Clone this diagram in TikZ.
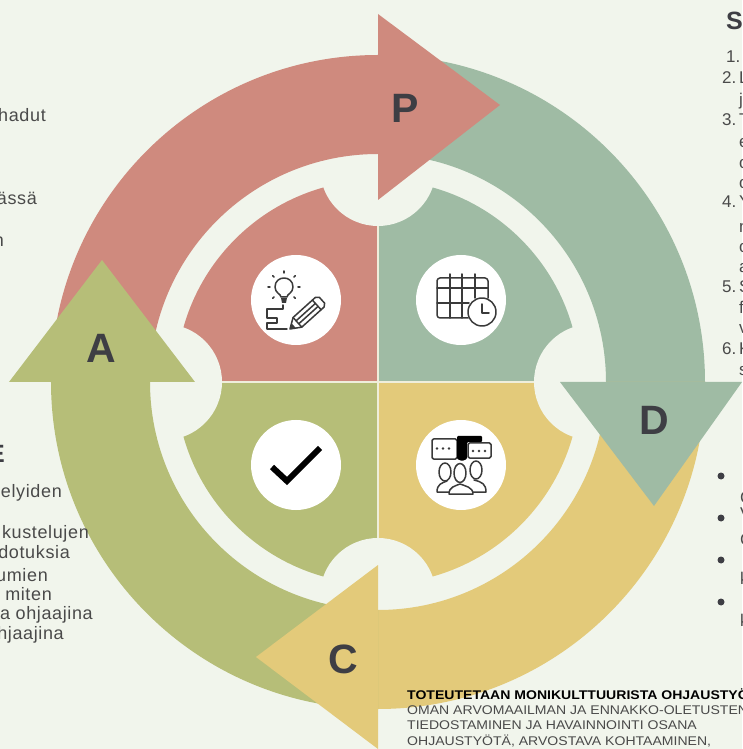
\documentclass[tikz,border=0pt]{standalone}
\usepackage{fontspec}
\usetikzlibrary{calc}
\setmainfont{Liberation Sans}
\newfontfamily\sidefont[LetterSpace=3.5]{Liberation Sans}
\newfontfamily\capsfont[FakeStretch=1.115]{Liberation Sans}
\definecolor{pagebg}{HTML}{F1F5EC}
\definecolor{cred}{HTML}{CF8A7E}
\definecolor{cgreen}{HTML}{9FBBA4}
\definecolor{cyellow}{HTML}{E3CA7A}
\definecolor{colive}{HTML}{B6BE78}
\definecolor{ink}{HTML}{4A4A4A}
\definecolor{letter}{HTML}{3E3E44}
\definecolor{icon}{HTML}{3A3A3A}
\tikzset{
  big/.style={font=\fontsize{41}{41}\selectfont\bfseries,text=letter,inner sep=0pt},
  side/.style={font=\sidefont\fontsize{18}{18}\selectfont,text=ink,inner sep=0pt,anchor=base east},
  head/.style={font=\fontsize{25}{25}\selectfont\bfseries,text=letter,inner sep=0pt},
  num/.style={font=\fontsize{17}{17}\selectfont,text=ink,inner sep=0pt,anchor=base west},
  caps/.style={font=\capsfont\fontsize{12.6}{12.6}\selectfont,text=ink,inner sep=0pt,anchor=base west},
  disc/.style={fill=white,draw=none,circle,minimum size=90pt,inner sep=0pt},
  ic/.style={draw=icon,line width=1.5pt,line join=round,line cap=round,fill=none},
}
\begin{document}
\begin{tikzpicture}[x=1pt,y=1pt]
\useasboundingbox (-378,-367) rectangle (364,382);
\fill[pagebg] (-378,-367) rectangle (364,382);
% inner quadrants
\fill[cred] (0,0) -- (180:202) arc[start angle=180,end angle=90,radius=202] -- cycle;
\fill[cgreen] (0,0) -- (90:202) arc[start angle=90,end angle=0,radius=202] -- cycle;
\fill[cyellow] (0,0) -- (0:202) arc[start angle=0,end angle=-90,radius=202] -- cycle;
\fill[colive] (0,0) -- (-90:202) arc[start angle=-90,end angle=-180,radius=202] -- cycle;
\draw[pagebg!85!cyellow,line width=1.3pt] (-202,0) -- (202,0) (0,-202) -- (0,202);
\fill[pagebg] (0,214) circle[radius=58] (0,-214) circle[radius=58]
  (-214,0) circle[radius=58] (214,0) circle[radius=58];
% ring segments
\fill[cred] (180:327) arc[start angle=180,end angle=90,radius=327] -- (90:228) arc[start angle=90,end angle=180,radius=228] -- cycle;
\fill[cgreen] (90:327) arc[start angle=90,end angle=0,radius=327] -- (0:228) arc[start angle=0,end angle=90,radius=228] -- cycle;
\fill[cyellow] (0:327) arc[start angle=0,end angle=-90,radius=327] -- (-90:228) arc[start angle=-90,end angle=0,radius=228] -- cycle;
\fill[colive] (-90:327) arc[start angle=-90,end angle=-180,radius=327] -- (180:228) arc[start angle=180,end angle=270,radius=228] -- cycle;
\begin{scope}[xshift=-378pt,yshift=382pt,x=1pt,y=-1pt]
% arrow heads
\fill[cred] (378,14) -- (500,105) -- (378,200) -- cycle;
\fill[cgreen] (560,382) -- (742,382) -- (654,506) -- cycle;
\fill[cyellow] (378,565) -- (256,657) -- (378,749) -- cycle;
\fill[colive] (9,382) -- (102,260) -- (195,382) -- cycle;
% panel behind the bottom text
\fill[pagebg] (379,709) rectangle (742,749);
\node[big] (letterP) at (405,108) {P};
\node[big] (letterD) at (654,420) {D};
\node[big] (letterC) at (343,659) {C};
\node[big] (letterA) at (101,348) {A};
% discs
\node[disc] (planDisc) at (296,300) {};
\node[disc] (doDisc) at (461,300) {};
\node[disc] (actDisc) at (296,465) {};
\node[disc] (checkDisc) at (461,465) {};
% bulb and pencil icon
\draw[ic] (281,297) .. controls (281,294) and (275,293) .. (275,287) .. controls (275,275) and (293,275) .. (293,287) .. controls (293,293) and (287,294) .. (287,297) -- cycle;
\fill[icon] (281,298) -- (287,298) -- (286,303) -- (282,303) -- cycle;
\foreach \a in {0,45,135,180,225,270,315}{\draw[ic] ($(284,287)+(\a:14)$) -- ($(284,287)+(\a:16)$);}
\draw[ic] (283,305) -- (283,309) -- (267,309) -- (267,318) -- (277,318) -- (277,323) -- (267,323) -- (267,329) -- (287,329);
\begin{scope}[shift={(290,329)},rotate=42]
\draw[ic] (0,0) -- (10,-6.5) -- (40,-6.5) -- (43,-4) -- (43,4) -- (40,6.5) -- (10,6.5) -- cycle;
\draw[ic] (10,-2) -- (36,-2) (10,2) -- (36,2) (36,-6.5) -- (36,6.5) (10,-6.5) -- (10,6.5);
\fill[icon] (0,0) -- (5,-3) -- (5,3) -- cycle;
\end{scope}
% calendar icon
\draw[ic,rounded corners=3pt] (468,318) -- (437,318) -- (437,278) -- (488,278) -- (488,298);
\draw[ic] (437,288) -- (488,288) (437,303) -- (469,303)
  (450,274) -- (450,318) (462,274) -- (462,318) (475,274) -- (475,298);
\fill[white] (482,312) circle[radius=14];
\draw[ic] (482,312) circle[radius=14];
\draw[ic] (482,304) -- (482,313) -- (489,313);
% check mark
\draw[black,line width=6pt,line join=miter] (272,467) -- (287,481) -- (320,448);
% people icon
\draw[ic,rounded corners=1.5pt] (432,439) rectangle (457,459) (468,443) rectangle (491,458);
\fill[black,rounded corners=1pt] (457,436) -- (482,436) -- (482,442) -- (467,442) -- (467,459) -- (462,461) -- (457,459) -- cycle;
\foreach \x in {437,443,449}{\fill[icon] (\x,448.5) circle[radius=1.3];}
\foreach \x in {473,479,485}{\fill[icon] (\x,451) circle[radius=1.3];}
\draw[ic] (445,472) ellipse[x radius=6,y radius=9] (460,473) ellipse[x radius=6,y radius=9.5] (476,470) ellipse[x radius=6,y radius=9];
\draw[ic] (437,492) .. controls (437,484) and (442,483) .. (447,481) (486,492) .. controls (486,484) and (482,482) .. (474,480) (437,492) -- (449,492) (473,492) -- (486,492);
\draw[ic] (449,494) .. controls (449,487) and (455,486) .. (460,484) .. controls (465,486) and (473,487) .. (473,494) -- cycle;
% left texts
\node[side] (l1) at (46,122) {hadut};
\node[side] (l2) at (37,205) {ässä};
\node[side] (l3) at (4,247) {n};
\node[head,anchor=base east] (l4) at (5,462) {E};
\node[side] (l5) at (62,497) {elyiden};
\node[side] (l6) at (89,538) {kustelujen};
\node[side] (l7) at (70,558) {dotuksia};
\node[side] (l8) at (48,581) {umien};
\node[side] (l9) at (52,600) {miten};
\node[side] (l10) at (93,619) {a ohjaajina};
\node[side] (l11) at (64,639) {hjaajina};
% right numbered list
\node[head,anchor=base west] (rh) at (726,30) {S};
\node[num] at (726,63) (r1) {1.};
\node[num] at (722,84) (r2) {2.\,L};
\node[num] at (739,106) (r2b) {j};
\node[num] at (722,126) (r3) {3.\,T};
\node[num] at (739,148) (r3b) {e};
\node[num] at (739,169) (r3c) {o};
\node[num] at (739,189) (r3d) {o};
\node[num] at (722,208) (r4) {4.\,Y};
\node[num] at (739,233) (r4b) {n};
\node[num] at (739,253) (r4c) {o};
\node[num] at (739,273) (r4d) {a};
\node[num] at (722,293) (r5) {5.\,S};
\node[num] at (739,314) (r5b) {f};
\node[num] at (739,334) (r5c) {v};
\node[num] at (722,355) (r6) {6.\,K};
\node[num] at (739,376) (r6b) {s};
% right bullets
\foreach \y in {476,518,560,602}{\fill[letter] (721,\y) circle[radius=3.5];}
\node[num] at (740,503) (b1) {C};
\node[num] at (740,519) (b2) {V};
\node[num] at (740,545) (b3) {C};
\node[num] at (740,584) (b4) {k};
\node[num] at (740,626) (b5) {k};
% bottom text
\node[caps,font=\capsfont\fontsize{12.6}{12.6}\selectfont\bfseries,text=black] (t1) at (407,699) {TOTEUTETAAN MONIKULTTUURISTA OHJAUSTYÖ};
\node[caps] (t2) at (407,714) {OMAN ARVOMAAILMAN JA ENNAKKO-OLETUSTEN};
\node[caps] (t3) at (407,729.5) {TIEDOSTAMINEN JA HAVAINNOINTI OSANA};
\node[caps] (t4) at (407,745) {OHJAUSTYÖTÄ, ARVOSTAVA KOHTAAMINEN,};
\end{scope}
\end{tikzpicture}
\end{document}
